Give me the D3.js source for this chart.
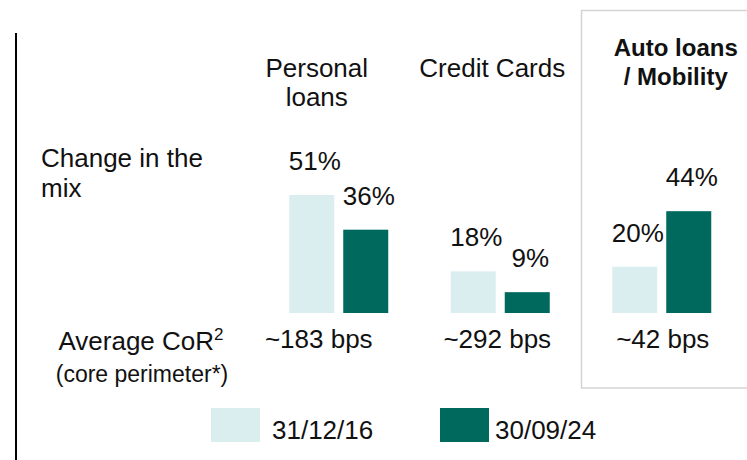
<!DOCTYPE html>
<html>
<head>
<meta charset="utf-8">
<script src="https://cdn.jsdelivr.net/npm/d3@7"></script>
<style>
  html, body { margin: 0; padding: 0; background: #fff; }
  svg { display: block; font-family: "Liberation Sans", Arial, sans-serif; }
</style>
</head>
<body>
<div id="chart"></div>
<script>
// Dữ liệu
const categories = ["Personal loans", "Credit Cards", "Auto loans / Mobility"];
const series = ["31/12/16", "30/09/24"];
const mix2016 = [51, 18, 20];
const mix2024 = [36, 9, 44];
const avgCoR = ["~183 bps", "~292 bps", "~42 bps"];

const colors = { "31/12/16": "#daeef0", "30/09/24": "#00695e" };

const width = 747, height = 460;
const baseY = 313;
const fs = "26px";

const svg = d3.select("#chart")
    .append("svg")
    .attr("width", width)
    .attr("height", height);

// Khung nổi bật cho Auto loans
svg.append("rect")
    .attr("x", 581.5)
    .attr("y", 10.5)
    .attr("width", 200)
    .attr("height", 377.5)
    .attr("fill", "none")
    .attr("stroke", "#d4d4d4")
    .attr("stroke-width", 1.5);

// Đường dọc bên trái
svg.append("line")
    .attr("x1", 16).attr("x2", 16)
    .attr("y1", 33).attr("y2", height)
    .attr("stroke", "#000")
    .attr("stroke-width", 2);

// Thang đo
const x0 = d3.scaleBand()
    .domain(categories)
    .range([258, 742.5]);

const x1 = d3.scaleBand()
    .domain(series)
    .range([0, 99])
    .paddingInner(1 / 6);

const y = d3.scaleLinear()
    .domain([0, 100])
    .range([baseY, baseY - 231.4]);

const data = categories.map((c, i) => ({
    cat: c,
    values: [
        { s: series[0], v: mix2016[i] },
        { s: series[1], v: mix2024[i] }
    ],
    cor: avgCoR[i]
}));

const groupLeft = c => x0(c) + x0.bandwidth() / 2 - 49.5;

const groups = svg.selectAll(".grp")
    .data(data)
    .enter()
    .append("g")
    .attr("class", "grp")
    .attr("transform", d => `translate(${groupLeft(d.cat)},0)`);

// Vẽ cột
groups.selectAll("rect")
    .data(d => d.values)
    .enter()
    .append("rect")
    .attr("x", d => x1(d.s))
    .attr("y", d => y(d.v))
    .attr("width", x1.bandwidth())
    .attr("height", d => baseY - y(d.v))
    .attr("fill", d => colors[d.s]);

// Nhãn phần trăm
groups.selectAll(".val")
    .data(d => d.values)
    .enter()
    .append("text")
    .attr("class", "val")
    .attr("x", d => x1(d.s) + x1.bandwidth() / 2 + 3)
    .attr("y", d => y(d.v) - 25)
    .attr("text-anchor", "middle")
    .style("font-size", fs)
    .attr("fill", "#111")
    .text(d => `${d.v}%`);

// Chỉnh vị trí riêng cho từng nhóm
const layout = {
    "Personal loans": { lines: ["Personal", "loans"], dx: -22, y: 77, bold: false, corDx: -20 },
    "Credit Cards": { lines: ["Credit Cards"], dx: -8, y: 77, bold: false, corDx: -3 },
    "Auto loans / Mobility": { lines: ["Auto loans", "/ Mobility"], dx: 14, y: 56, bold: true, corDx: 1 }
};

// Nhãn CoR
groups.append("text")
    .attr("x", d => 49.5 + layout[d.cat].corDx)
    .attr("y", 348)
    .attr("text-anchor", "middle")
    .style("font-size", fs)
    .attr("fill", "#111")
    .text(d => d.cor);

// Tiêu đề cột
groups.each(function (d) {
    const h = layout[d.cat];
    const t = d3.select(this).append("text")
        .attr("text-anchor", "middle")
        .style("font-size", h.bold ? "24px" : fs)
        .style("font-weight", h.bold ? "bold" : "normal")
        .attr("fill", "#111");
    h.lines.forEach((line, i) => {
        t.append("tspan")
            .attr("x", 49.5 + h.dx)
            .attr("y", h.y + i * 29)
            .text(line);
    });
});

// Nhãn bên trái
const leftLabel = svg.append("text")
    .style("font-size", fs)
    .attr("fill", "#111");
leftLabel.append("tspan").attr("x", 41).attr("y", 167).text("Change in the");
leftLabel.append("tspan").attr("x", 41).attr("y", 197).text("mix");

const cor = svg.append("text")
    .attr("x", 141)
    .attr("y", 350)
    .attr("text-anchor", "middle")
    .style("font-size", fs)
    .attr("fill", "#111");
cor.append("tspan").text("Average CoR");
cor.append("tspan").attr("dy", -10).style("font-size", "17px").text("2");

svg.append("text")
    .attr("x", 142)
    .attr("y", 382)
    .attr("text-anchor", "middle")
    .style("font-size", "23px")
    .attr("fill", "#111")
    .text("(core perimeter*)");

// Chú giải
const legend = svg.selectAll(".legend")
    .data(series)
    .enter()
    .append("g")
    .attr("class", "legend")
    .attr("transform", (d, i) => `translate(${211 + i * 229},408)`);

legend.append("rect")
    .attr("width", 49)
    .attr("height", 34)
    .attr("fill", d => colors[d]);

legend.append("text")
    .attr("x", (d, i) => i === 0 ? 61 : 55)
    .attr("y", 31)
    .style("font-size", fs)
    .attr("fill", "#111")
    .text(d => d);
</script>
</body>
</html>
